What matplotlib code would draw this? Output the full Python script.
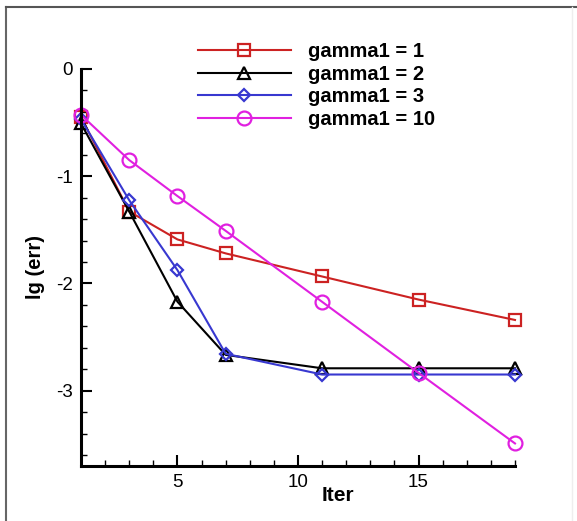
import matplotlib
matplotlib.use("Agg")
import matplotlib.pyplot as plt
from matplotlib.lines import Line2D
from matplotlib.ticker import MultipleLocator

# ---- data ----
iters = [1, 3, 5, 7, 11, 15, 19]
g1 = [-0.45, -1.33, -1.59, -1.72, -1.935, -2.15, -2.34]
g2 = [-0.51, -1.33, -2.17, -2.665, -2.79, -2.79, -2.79]
g3 = [-0.47, -1.225, -1.876, -2.655, -2.848, -2.848, -2.848]
g10 = [-0.43, -0.851, -1.186, -1.51, -2.171, -2.833, -3.49]
labels = ["gamma1 = 1", "gamma1 = 2", "gamma1 = 3", "gamma1 = 10"]
xticks = [5, 10, 15]
yticks = [0, -1, -2, -3]

W, H = 577, 521
fig = plt.figure(figsize=(W / 100, H / 100), dpi=100)
fig.patch.set_facecolor("white")
plt.rcParams["font.family"] = ["Liberation Sans", "DejaVu Sans"]

L, R, B, T = 81, 515, 466, 68.7
ax = fig.add_axes([L / W, 1 - B / H, (R - L) / W, (B - T) / H])
ax.set_xlim(1, 19)
ax.set_ylim(-3.7, 0)

styles = [
    dict(color="#cc2222", marker="s", ms=8),
    dict(color="#000000", marker="^", ms=8),
    dict(color="#3838d0", marker="D", ms=6.5),
    dict(color="#e020e0", marker="o", ms=10),
]
series = [g1, g2, g3, g10]
for ys, st, lab in zip(series, styles, labels):
    ax.plot(iters, ys, color=st["color"], marker=st["marker"], ms=st["ms"],
            mfc="none", mec=st["color"], mew=1.6, lw=1.5, label=lab,
            clip_on=False)

for s in ["top", "right"]:
    ax.spines[s].set_visible(False)
for s in ["left", "bottom"]:
    ax.spines[s].set_linewidth(2.2)

ax.set_xticks(xticks)
ax.set_yticks(yticks)
ax.set_yticklabels(["0", "-1", "-2", "-3"])
ax.xaxis.set_minor_locator(MultipleLocator(1))
ax.yaxis.set_minor_locator(MultipleLocator(0.2))
ax.tick_params(which="major", direction="in", length=8, width=1.5,
               labelsize=13.5, pad=6)
ax.tick_params(which="minor", direction="in", length=4, width=1.0)

ax.set_xlabel("Iter", fontsize=15, fontweight="bold")
ax.set_ylabel("lg (err)", fontsize=14.5, fontweight="bold")
ax.xaxis.set_label_coords((338 - L) / (R - L), (B - 486) / (B - T))
ax.yaxis.set_label_coords((45 - L) / (R - L), 0.5)

leg = ax.legend(loc="upper left", bbox_to_anchor=(198 / W, 1 - 42 / H),
                bbox_transform=fig.transFigure, frameon=False,
                prop={"weight": "bold", "size": 14.5}, handlelength=4.6,
                handletextpad=0.85, labelspacing=0.18, borderaxespad=0,
                borderpad=0)

# image frame
fig.add_artist(Line2D([6 / W, 6 / W], [0, 1 - 7 / H], color="#666666", lw=1.5,
                      transform=fig.transFigure))
fig.add_artist(Line2D([6 / W, 1], [1 - 7 / H, 1 - 7 / H], color="#555555", lw=1.5,
                      transform=fig.transFigure))
fig.add_artist(Line2D([572 / W, 572 / W], [0, 1 - 7 / H], color="#eeeeee", lw=1,
                      transform=fig.transFigure))

fig.savefig("out.png", dpi=100)
